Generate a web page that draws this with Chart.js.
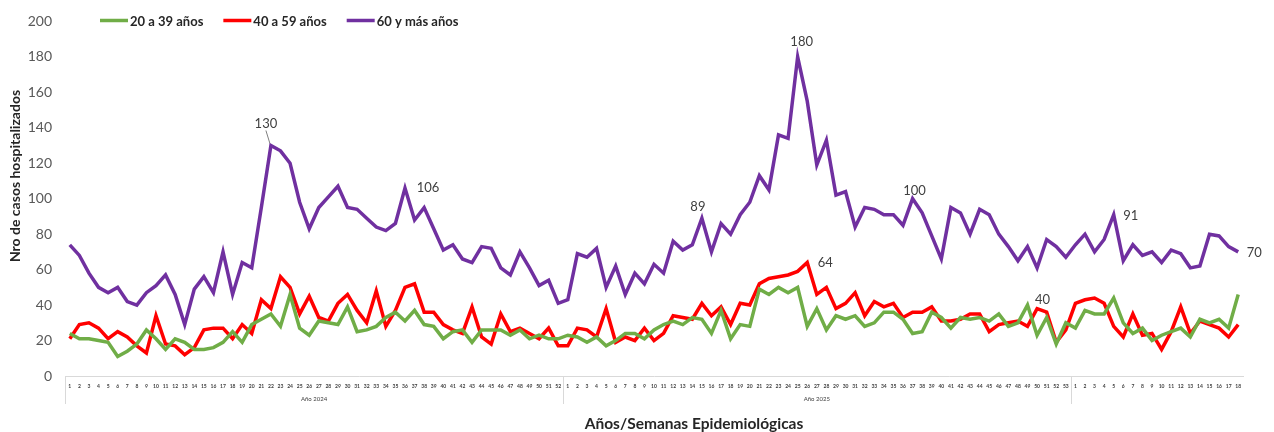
<!DOCTYPE html>
<html lang="es">
<head>
<meta charset="UTF-8">
<title>Casos hospitalizados por grupo de edad</title>
<script src="https://cdn.jsdelivr.net/npm/chart.js"></script>
<style>
  html, body { margin: 0; padding: 0; background: #fff; }
</style>
</head>
<body>
<canvas id="chart" width="1274" height="432"></canvas>
<script>
// years and the number of epidemiological weeks shown for each
const years = ['Año 2024', 'Año 2025', ''];
const weeksPerYear = [52, 53, 18];

// weekly hospitalized cases, by age group
const age20to39 = [
  24, 21, 21, 20, 19, 11, 14, 18, 26, 21, 15, 21, 19, 15, 15, 16, 19, 25, 19, 29,
  32, 35, 28, 46, 27, 23, 31, 30, 29, 39, 25, 26, 28, 33, 36, 31, 37, 29, 28, 21,
  25, 26, 19, 26, 26, 26, 23, 26, 21, 23, 21, 21,
  23, 22, 19, 22, 17, 20, 24, 24, 21, 26, 29, 31, 29, 33, 32, 24, 37, 21, 29, 28,
  49, 46, 50, 47, 50, 28, 38, 26, 34, 32, 34, 28, 30, 36, 36, 32, 24, 25, 36, 33,
  27, 33, 32, 33, 31, 35, 28, 30, 40, 23, 33, 18, 30,
  27, 37, 35, 35, 44, 30, 24, 27, 20, 23, 25, 27, 22, 32, 30, 32, 27, 46
];
const age40to59 = [
  21, 29, 30, 27, 21, 25, 22, 17, 13, 34, 18, 17, 12, 16, 26, 27, 27, 21, 29, 24,
  43, 38, 56, 50, 35, 45, 33, 31, 41, 46, 37, 30, 48, 28, 37, 50, 52, 36, 36, 29,
  26, 24, 39, 22, 18, 35, 25, 27, 24, 21, 27, 17,
  17, 27, 26, 22, 38, 19, 22, 20, 27, 20, 24, 34, 33, 32, 41, 34, 39, 29, 41, 40,
  52, 55, 56, 57, 59, 64, 46, 50, 38, 41, 47, 34, 42, 39, 41, 33, 36, 36, 39, 31,
  31, 32, 35, 35, 25, 29, 30, 31, 28, 38, 36, 19, 26,
  41, 43, 44, 41, 28, 22, 35, 23, 24, 15, 25, 39, 24, 31, 29, 27, 22, 29
];
const age60plus = [
  74, 68, 58, 50, 47, 50, 42, 40, 47, 51, 57, 46, 29, 49, 56, 47, 70, 46, 64, 61,
  95, 130, 127, 120, 98, 83, 95, 101, 107, 95, 94, 89, 84, 82, 86, 106, 88, 95, 83, 71,
  74, 66, 64, 73, 72, 61, 57, 70, 61, 51, 54, 41,
  43, 69, 67, 72, 50, 62, 46, 58, 52, 63, 58, 76, 71, 74, 89, 70, 86, 80, 91, 98,
  113, 105, 136, 134, 180, 155, 119, 133, 102, 104, 84, 95, 94, 91, 91, 85, 100, 92, 79, 66,
  95, 92, 80, 94, 91, 80, 73, 65, 73, 61, 77, 73, 67,
  74, 80, 70, 77, 91, 65, 74, 68, 70, 64, 71, 69, 61, 62, 80, 79, 73, 70
];

const seriesNames = ['20 a 39 años', '40 a 59 años', '60 y más años'];
const yTicks = [0, 20, 40, 60, 80, 100, 120, 140, 160, 180, 200];

// week labels 1..n for every year
const weekLabels = [];
weeksPerYear.forEach(n => {
  for (let w = 1; w <= n; w++) weekLabels.push(String(w));
});

const colors = ['#70ad47', '#ff0000', '#7030a0'];
const FONT = 'Lato, "Open Sans", sans-serif';

// which points carry a value label: [dataset, index, dx, dy, leader]
const pointLabels = [
  [2, 21, -5, -22, true],
  [2, 35, 23, 0],
  [2, 66, -4, -11],
  [2, 76, 4, -15],
  [2, 88, 2, -8],
  [2, 109, 17, 1],
  [2, 122, 16, 1],
  [1, 77, 18, 0],
  [0, 100, 15, -5]
];

const extras = {
  id: 'extras',
  afterDraw(chart) {
    const ctx = chart.ctx;
    const x = chart.scales.x;
    const area = chart.chartArea;
    ctx.save();

    // year group separators and labels below the week ticks
    const edges = [x.left];
    let acc = 0;
    weeksPerYear.forEach((n, i) => {
      acc += n;
      if (i < weeksPerYear.length - 1) {
        edges.push((x.getPixelForTick(acc - 1) + x.getPixelForTick(acc)) / 2);
      }
    });
    ctx.strokeStyle = '#d9d9d9';
    ctx.lineWidth = 1;
    edges.forEach(ex => {
      const px = Math.round(ex) + 0.5;
      ctx.beginPath();
      ctx.moveTo(px, area.bottom);
      ctx.lineTo(px, area.bottom + 28);
      ctx.stroke();
    });
    ctx.fillStyle = '#404040';
    ctx.font = '6px ' + FONT;
    ctx.textAlign = 'center';
    ctx.textBaseline = 'middle';
    years.forEach((y, i) => {
      if (!y) return;
      ctx.fillText(y, (edges[i] + edges[i + 1]) / 2, area.bottom + 23);
    });

    // x axis title
    ctx.font = 'bold 15.5px ' + FONT;
    ctx.fillStyle = '#262626';
    ctx.fillText('Años/Semanas Epidemiológicas', 694, 424);

    // legend
    let lx = 100;
    const ly = 20.5;
    ctx.font = 'bold 13px ' + FONT;
    ctx.textAlign = 'left';
    seriesNames.forEach((name, i) => {
      ctx.strokeStyle = colors[i];
      ctx.lineWidth = 3.5;
      ctx.beginPath();
      ctx.moveTo(lx, ly);
      ctx.lineTo(lx + 28, ly);
      ctx.stroke();
      ctx.fillStyle = '#262626';
      ctx.fillText(name, lx + 30, ly + 1);
      lx += 30 + ctx.measureText(name).width + 20;
    });

    // y axis title
    ctx.save();
    ctx.translate(15, 176);
    ctx.rotate(-Math.PI / 2);
    ctx.textAlign = 'center';
    ctx.font = 'bold 14px ' + FONT;
    ctx.fillStyle = '#262626';
    ctx.fillText('Nro de casos hospitalizados', 0, 0);
    ctx.restore();

    // value labels
    ctx.font = '13px ' + FONT;
    ctx.fillStyle = '#404040';
    ctx.textAlign = 'center';
    pointLabels.forEach(([ds, idx, dx, dy, leader]) => {
      const pt = chart.getDatasetMeta(ds).data[idx];
      const val = chart.data.datasets[ds].data[idx];
      ctx.fillText(String(val), pt.x + dx, pt.y + dy);
      if (leader) {
        ctx.strokeStyle = '#7f7f7f';
        ctx.lineWidth = 1;
        ctx.beginPath();
        ctx.moveTo(pt.x + dx, pt.y + dy + 7);
        ctx.lineTo(pt.x - 1, pt.y - 2);
        ctx.stroke();
      }
    });
    ctx.restore();
  }
};

new Chart(document.getElementById('chart'), {
  type: 'line',
  data: {
    labels: weekLabels,
    datasets: [age20to39, age40to59, age60plus].map((d, i) => ({
      label: seriesNames[i],
      data: d,
      borderColor: colors[i],
      backgroundColor: colors[i],
      borderWidth: 3.5,
      pointRadius: 0,
      tension: 0,
      fill: false
    }))
  },
  options: {
    responsive: false,
    animation: false,
    devicePixelRatio: 1,
    layout: { padding: { top: 19, right: 31, bottom: 0, left: 0 } },
    plugins: {
      legend: { display: false },
      tooltip: { enabled: false }
    },
    scales: {
      x: {
        offset: true,
        grid: { display: false, drawTicks: false },
        border: { display: true, color: '#d9d9d9', width: 1 },
        ticks: {
          autoSkip: false,
          maxRotation: 0,
          minRotation: 0,
          padding: 7,
          color: '#404040',
          font: { family: FONT, size: 5, weight: 'bold' }
        },
        afterFit(s) { s.height = 56; }
      },
      y: {
        min: 0,
        max: 200,
        afterBuildTicks(s) { s.ticks = yTicks.map(v => ({ value: v })); },
        grid: { display: false, drawTicks: false },
        border: { display: false },
        ticks: {
          padding: 13,
          color: '#595959',
          font: { family: FONT, size: 14 }
        },
        afterFit(s) { s.width = 65; }
      }
    }
  },
  plugins: [extras]
});
</script>
</body>
</html>
